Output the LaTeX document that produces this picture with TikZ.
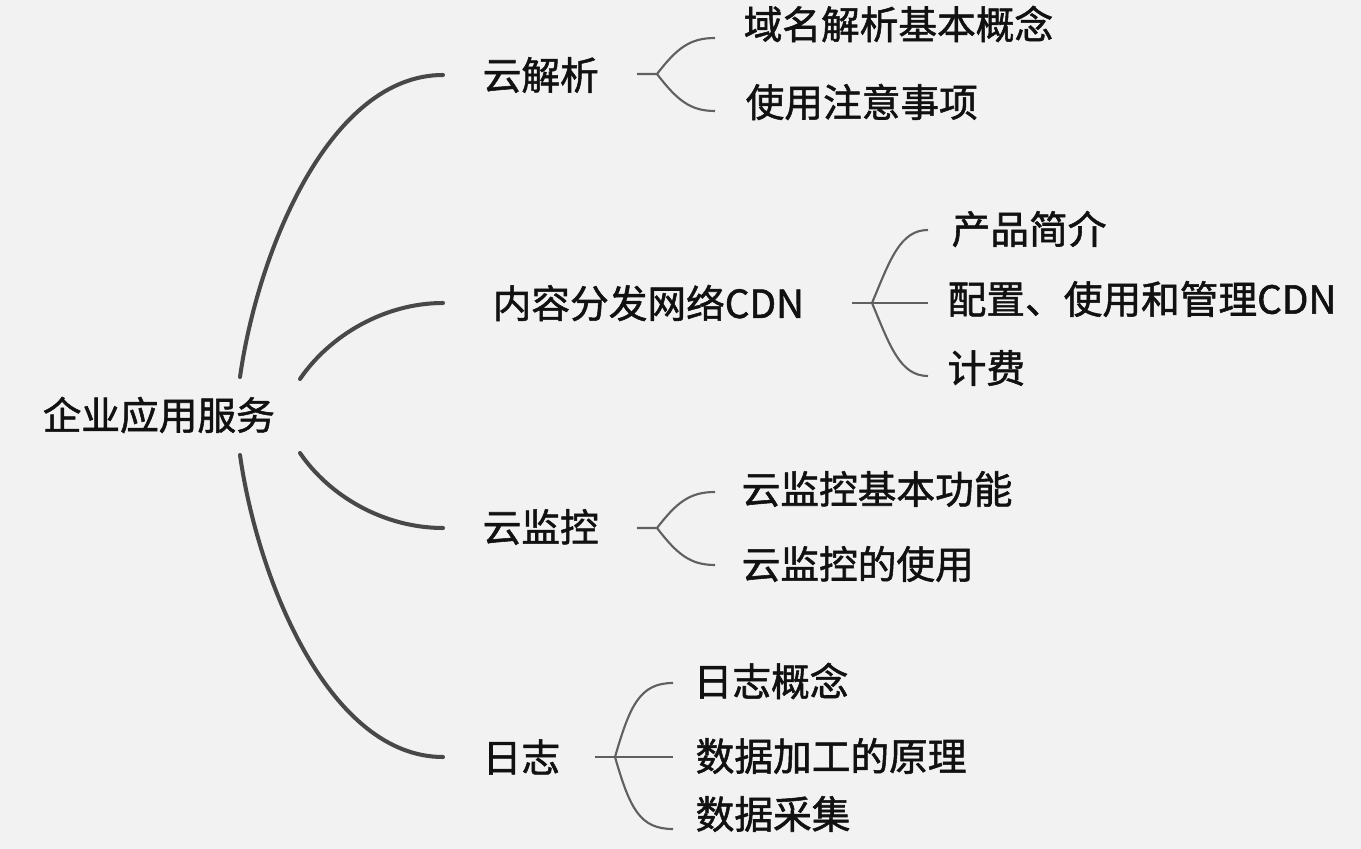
\documentclass[tikz,border=0pt]{standalone}
\usepackage{fontspec}
\setmainfont{Noto Sans CJK SC}
\newfontfamily\topicfont{Noto Sans CJK SC}[FakeBold=1.4]
\usepackage{xcolor}
\usepackage{tikz}
\definecolor{paper}{RGB}{242,242,242}
\definecolor{trunk}{RGB}{72,72,72}
\definecolor{twig}{RGB}{96,96,96}
\definecolor{ink}{RGB}{17,17,17}

\begin{document}
\begin{tikzpicture}[
  x=0.01cm, y=-0.01cm,
  topic/.style={anchor=west, inner sep=0, text=ink, font=\topicfont\fontsize{11pt}{13pt}\selectfont},
  branch/.style={trunk, line width=1.15pt, line cap=round},
  fork/.style={twig, line width=0.6pt},
]

% Page
\fill[paper] (0,0) rectangle (1361,849);
\useasboundingbox (0,0) rectangle (1361,849);

% Root
\node[topic] (root) at (42,415) {企业应用服务};

% First level
\node[topic] (jiexi) at (482,75) {云解析};
\node[topic] (cdn) at (492,303) {内容分发网络CDN};
\node[topic] (jiankong) at (482,527) {云监控};
\node[topic] (rizhi) at (482,757) {日志};

% Second level
\node[topic] (jx1) at (743,24) {域名解析基本概念};
\node[topic] (jx2) at (745,102) {使用注意事项};
\node[topic] (cdn1) at (951,229) {产品简介};
\node[topic] (cdn2) at (947,299) {配置、使用和管理CDN};
\node[topic] (cdn3) at (947,368) {计费};
\node[topic] (jk1) at (741,489) {云监控基本功能};
\node[topic] (jk2) at (741,564) {云监控的使用};
\node[topic] (rz1) at (693,681) {日志概念};
\node[topic] (rz2) at (695,756) {数据加工的原理};
\node[topic] (rz3) at (695,814) {数据采集};

% Connector ends
\coordinate (r1) at (240,377);
\coordinate (r2) at (300,379);
\coordinate (r3) at (300,453);
\coordinate (r4) at (240,455);
\coordinate (jiexi-in) at (443,75);
\coordinate (cdn-in) at (443,303);
\coordinate (jiankong-in) at (443,528);
\coordinate (rizhi-in) at (443,757);

\coordinate (jx-s) at (637,74);   \coordinate (jx-f) at (657,74);
\coordinate (jx-a) at (715,38);   \coordinate (jx-b) at (715,111);
\coordinate (cdn-s) at (852,303); \coordinate (cdn-f) at (872,303);
\coordinate (cdn-a) at (928,230); \coordinate (cdn-m) at (928,303);
\coordinate (cdn-b) at (928,376);
\coordinate (jk-s) at (637,528);  \coordinate (jk-f) at (657,528);
\coordinate (jk-a) at (715,492);  \coordinate (jk-b) at (715,565);
\coordinate (rz-s) at (595,757);  \coordinate (rz-f) at (615,757);
\coordinate (rz-a) at (673,683);  \coordinate (rz-m) at (673,757);
\coordinate (rz-b) at (673,829);

% Root -> first level
\draw[branch] (r1) .. controls +(18,-127) and +(-113,0) .. (jiexi-in);
\draw[branch] (r2) .. controls +(30,-44) and +(-58,0) .. (cdn-in);
\draw[branch] (r3) .. controls +(30,44) and +(-58,0) .. (jiankong-in);
\draw[branch] (r4) .. controls +(18,127) and +(-113,0) .. (rizhi-in);

% First level -> second level
\draw[fork] (jx-s) -- (jx-f) .. controls +(20,-26) and +(-25,0) .. (jx-a);
\draw[fork] (jx-f) .. controls +(20,26) and +(-25,0) .. (jx-b);

\draw[fork] (cdn-s) -- (cdn-m);
\draw[fork] (cdn-f) .. controls +(18,-43) and +(-28,0) .. (cdn-a);
\draw[fork] (cdn-f) .. controls +(18,43) and +(-28,0) .. (cdn-b);

\draw[fork] (jk-s) -- (jk-f) .. controls +(20,-26) and +(-25,0) .. (jk-a);
\draw[fork] (jk-f) .. controls +(20,26) and +(-25,0) .. (jk-b);

\draw[fork] (rz-s) -- (rz-m);
\draw[fork] (rz-f) .. controls +(15,-52) and +(-33,0) .. (rz-a);
\draw[fork] (rz-f) .. controls +(15,52) and +(-33,0) .. (rz-b);

\end{tikzpicture}
\end{document}
